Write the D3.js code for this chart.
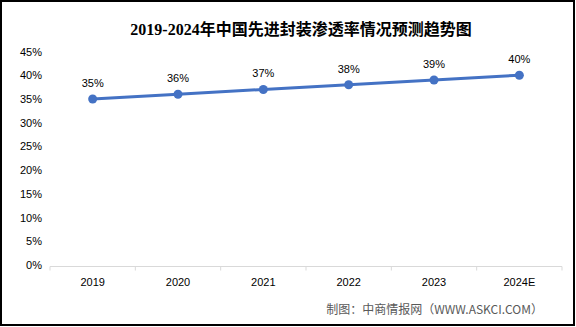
<!DOCTYPE html>
<html>
<head>
<meta charset="utf-8">
<title>2019-2024年中国先进封装渗透率情况预测趋势图</title>
<style>
  body { margin: 0; background: #fff; }
  svg { display: block; }
</style>
</head>
<body>
<script src="https://cdn.jsdelivr.net/npm/d3@7"></script>
<script>
// data
var years = ["2019", "2020", "2021", "2022", "2023", "2024E"];
var rates = [35, 36, 37, 38, 39, 40];
var yTicks = [0, 5, 10, 15, 20, 25, 30, 35, 40, 45];

var W = 576, H = 327;
var plot = {left: 50, right: 562, top: 51.5, bottom: 265};

var svg = d3.select("body").append("svg")
  .attr("width", W)
  .attr("height", H);

svg.append("rect")
  .attr("x", 1).attr("y", 1)
  .attr("width", W - 3).attr("height", H - 3)
  .attr("fill", "#fff")
  .attr("stroke", "#000")
  .attr("stroke-width", 2);

var x = d3.scaleBand()
  .domain(years)
  .range([plot.left, plot.right]);

var y = d3.scaleLinear()
  .domain([0, 45])
  .range([plot.bottom, plot.top]);

// Title
svg.append("text")
  .attr("x", 301)
  .attr("y", 35)
  .attr("text-anchor", "middle")
  .style("font-family", "'Liberation Serif', 'Noto Sans CJK SC', serif")
  .style("font-weight", "bold")
  .style("font-size", "16px")
  .text("2019-2024年中国先进封装渗透率情况预测趋势图");

// Y axis (labels only)
var yAxis = svg.append("g")
  .attr("transform", "translate(" + (plot.left - 8) + ",0)")
  .call(d3.axisLeft(y).tickValues(yTicks).tickSize(0).tickPadding(0)
    .tickFormat(function(d) { return d + "%"; }));
yAxis.select(".domain").remove();
yAxis.selectAll("text")
  .style("font-family", "'Liberation Sans', sans-serif")
  .style("font-size", "11px")
  .attr("fill", "#000");

// X axis
var xAxis = svg.append("g")
  .attr("transform", "translate(0," + (plot.bottom + 1.5) + ")")
  .call(d3.axisBottom(x).tickSize(0).tickPadding(12));
xAxis.select(".domain")
  .attr("stroke", "#d9d9d9")
  .attr("d", "M" + plot.left + ",4V0H" + plot.right + "V4");
xAxis.selectAll("text")
  .style("font-family", "'Liberation Sans', sans-serif")
  .style("font-size", "11px")
  .attr("fill", "#000");
// category boundary ticks
svg.append("g")
  .selectAll("line")
  .data(years.slice(1))
  .enter().append("line")
  .attr("x1", function(d) { return x(d); })
  .attr("x2", function(d) { return x(d); })
  .attr("y1", plot.bottom + 1.5)
  .attr("y2", plot.bottom + 5.5)
  .attr("stroke", "#d9d9d9");

var pts = years.map(function(d, i) { return {year: d, v: rates[i]}; });

var line = d3.line()
  .x(function(d) { return x(d.year) + x.bandwidth() / 2; })
  .y(function(d) { return y(d.v); });

svg.append("path")
  .datum(pts)
  .attr("d", line)
  .attr("fill", "none")
  .attr("stroke", "#4472c4")
  .attr("stroke-width", 3);

svg.selectAll(".dot")
  .data(pts)
  .enter().append("circle")
  .attr("class", "dot")
  .attr("cx", function(d) { return x(d.year) + x.bandwidth() / 2; })
  .attr("cy", function(d) { return y(d.v); })
  .attr("r", 4.5)
  .attr("fill", "#4472c4");

svg.selectAll(".lbl")
  .data(pts)
  .enter().append("text")
  .attr("class", "lbl")
  .attr("x", function(d) { return x(d.year) + x.bandwidth() / 2; })
  .attr("y", function(d) { return y(d.v) - 12; })
  .attr("text-anchor", "middle")
  .style("font-family", "'Liberation Sans', sans-serif")
  .style("font-size", "11px")
  .text(function(d) { return d.v + "%"; });

// Source note
svg.append("text")
  .attr("x", 543)
  .attr("y", 314)
  .attr("text-anchor", "end")
  .attr("fill", "#595959")
  .style("font-family", "'Noto Sans CJK SC', sans-serif")
  .style("font-size", "12px")
  .text("制图：中商情报网（WWW.ASKCI.COM）");
</script>
</body>
</html>
